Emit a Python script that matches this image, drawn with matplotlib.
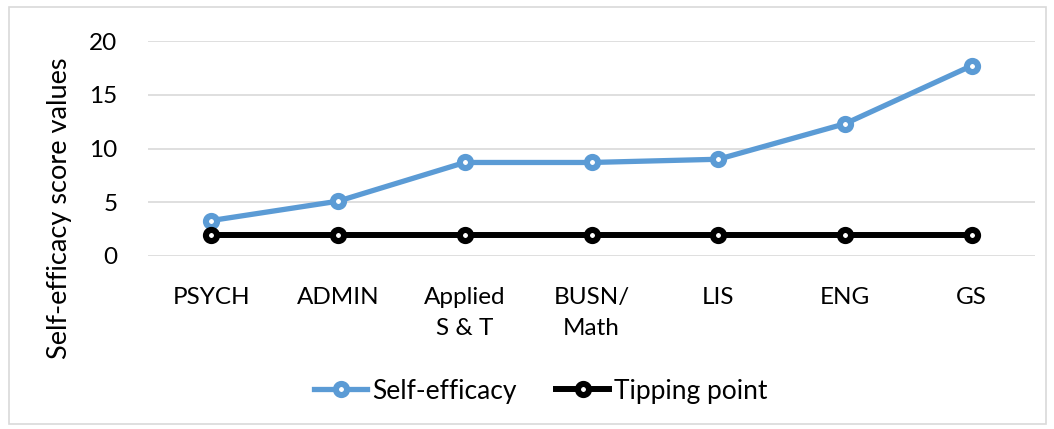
import matplotlib
matplotlib.use("Agg")
import matplotlib.pyplot as plt
from matplotlib.patches import Rectangle

categories = ["PSYCH", "ADMIN", "Applied\nS & T", "BUSN/\nMath", "LIS", "ENG", "GS"]
self_efficacy = [3.3, 5.1, 8.7, 8.7, 9.0, 12.3, 17.7]
tipping_point = [2, 2, 2, 2, 2, 2, 2]
yticks = [0, 5, 10, 15, 20]

plt.rcParams['font.family'] = ['Lato', 'DejaVu Sans']

fig = plt.figure(figsize=(10.54, 4.29), dpi=100)
ax = fig.add_axes([148/1054, 1 - 256/429, (1035-148)/1054, (256-41)/429])

x = list(range(len(categories)))
ax.plot(x, self_efficacy, color="#5b9bd5", linewidth=3.8, marker='o', markersize=8,
        markerfacecolor='white', markeredgecolor="#5b9bd5", markeredgewidth=4.4,
        label="Self-efficacy", zorder=3)
ax.plot(x, tipping_point, color="black", linewidth=4.3, marker='o', markersize=8,
        markerfacecolor='white', markeredgecolor="black", markeredgewidth=4.4,
        label="Tipping point", zorder=3)

ax.set_xlim(-0.5, len(categories) - 0.5)
ax.set_ylim(0, 20)
ax.set_yticks(yticks)
ax.set_xticks(x)
ax.set_xticklabels(categories, fontsize=17.5, linespacing=1.6)
ax.tick_params(axis='y', labelsize=17.5, length=0, pad=22)
ax.tick_params(axis='x', length=0, pad=22)
ax.yaxis.grid(True, color="#d9d9d9", linewidth=1.2)
ax.set_axisbelow(True)
for s in ax.spines.values():
    s.set_visible(False)
for lbl in ax.get_xticklabels():
    lbl.set_verticalalignment('top')

fig.text(60/1054, 1 - 208/429, "Self-efficacy score values", rotation=90,
         fontsize=19.5, ha='center', va='center')

leg = fig.legend(loc='center', bbox_to_anchor=(541/1054, 1 - 391/429), ncol=2,
                 frameon=False, fontsize=19, handlelength=2.0, columnspacing=1.5,
                 handletextpad=0.2)

fig.patches.append(Rectangle((9/1054, 1 - 424/429), (1046-9)/1054, (424-7)/429,
                             transform=fig.transFigure, fill=False,
                             edgecolor="#d9d9d9", linewidth=1.2))

fig.savefig("out.png", dpi=100)
